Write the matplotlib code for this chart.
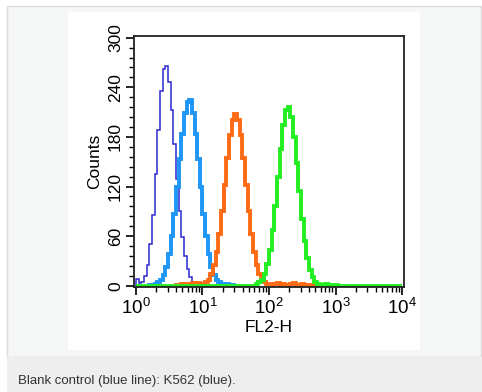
import numpy as np
import matplotlib
matplotlib.use('Agg')
import matplotlib.pyplot as plt
from matplotlib.patches import Rectangle
from matplotlib.ticker import MultipleLocator, LogLocator

plt.rcParams['font.family'] = ['Liberation Sans', 'DejaVu Sans']
plt.rcParams['mathtext.fontset'] = 'custom'
plt.rcParams['mathtext.rm'] = 'Liberation Sans'

# FL2-H channels: 100 log bins over 4 decades
edges = np.logspace(0, 4, 101)

# counts per channel, each list starts at the given channel index
blank_start = 0
blank_counts = [8, 3, 5, 12, 25, 50, 86, 135, 188, 235, 262, 266, 246, 213, 172,
                129, 91, 59, 36, 20, 11, 5, 2, 1]

k562_start = 5
k562_counts = [1, 1, 2, 4, 7, 13, 23, 39, 60, 87, 119, 153, 184, 209, 222, 225,
               209, 184, 153, 119, 87, 60, 39, 23, 13, 7, 4, 2, 1, 2, 1, 1]

orange_start = 15
orange_counts = [1, 1, 2, 1, 2, 2, 3, 2, 3, 2,
                 2, 4, 7, 14, 25, 41, 63, 90, 122, 154, 182, 201, 208, 201, 182,
                 154, 122, 90, 63, 41, 25, 14, 7, 4, 2,
                 2, 1, 2, 3, 1, 2, 1, 1, 2, 3, 1, 1, 2, 1, 1, 0, 1, 0, 1]

green_start = 45
green_counts = [2, 4, 7, 14, 26, 43, 67, 97, 131, 165, 194, 212, 216, 204, 180,
                148, 114, 81, 54, 33, 19, 10, 5, 2, 1, 1, 2, 1, 0, 1, 1]

series = [
    (blank_start, blank_counts, '#2a2ad0', 1.1),
    (k562_start, k562_counts, '#1e96f5', 2.8),
    (orange_start, orange_counts, '#ff6a14', 2.8),
]

W, H = 482, 392
fig = plt.figure(figsize=(W / 100, H / 100), dpi=100)

def px_rect(x0, y0, x1, y1, **kw):
    fig.patches.append(Rectangle((x0 / W, 1 - y1 / H), (x1 - x0) / W, (y1 - y0) / H,
                                 transform=fig.transFigure, zorder=-5, **kw))

# page background, frame, white panel and caption bar
px_rect(7, 6, 481, 357, facecolor='#f5f6f6', edgecolor='#dcdcdc', lw=1)
px_rect(68, 12, 420, 350, facecolor='white', edgecolor='none')
px_rect(7, 357, 482, 392, facecolor='#edeeed', edgecolor='none')
fig.text(18 / W, 1 - 381 / H, 'Blank control (blue line): K562 (blue).',
         fontsize=9.5, color='#333333', va='center', ha='left')

ax = fig.add_axes([134 / W, 1 - 287 / H, (404 - 134) / W, (287 - 36) / H])
ax.set_facecolor('white')

for start, counts, color, lw in series:
    ax.stairs(counts, edges[start:start + len(counts) + 1], color=color, lw=lw)

green_full = np.zeros(len(edges) - 1)
green_full[green_start:green_start + len(green_counts)] = green_counts
ax.stairs(green_full, edges, color='#22ee22', lw=2.8, baseline=None)

ax.set_xscale('log')
ax.set_xlim(10 ** -0.03, 10 ** 4.03)
ax.set_ylim(-1.5, 302)
ax.xaxis.set_major_locator(LogLocator(base=10, numticks=10))
ax.xaxis.set_minor_locator(LogLocator(base=10, subs=np.arange(2, 10), numticks=10))
ax.yaxis.set_major_locator(MultipleLocator(60))
ax.yaxis.set_minor_locator(MultipleLocator(12))

for s in ax.spines.values():
    s.set_linewidth(1.3)
    s.set_color('#222222')
ax.tick_params(which='major', direction='out', length=6, width=1.2, labelsize=12.5, pad=2)
ax.tick_params(axis='x', which='major', labelsize=13.5)
ax.tick_params(which='minor', direction='out', length=3.5, width=1)
for lab in ax.get_yticklabels():
    lab.set_rotation(90)
    lab.set_va('center')

ax.set_xlabel('FL2-H', fontsize=12.5, labelpad=1)
ax.set_ylabel('Counts', fontsize=12.5, labelpad=4)

fig.savefig('out.png', dpi=100)
